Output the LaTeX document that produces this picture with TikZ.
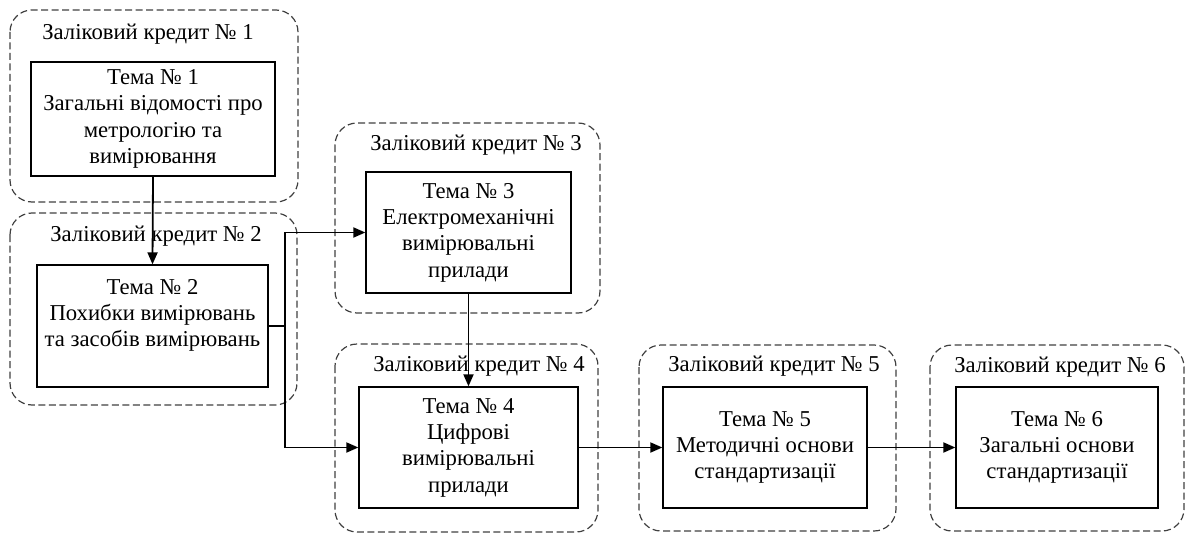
\documentclass[tikz,border=0pt]{standalone}
\usepackage{fontspec}
\setmainfont{Liberation Serif}
\usetikzlibrary{arrows.meta}
\begin{document}
\begin{tikzpicture}[x=1pt,y=-1pt,
  grp/.style={draw=black!75, line width=1.2pt, dash pattern=on 7pt off 3.5pt, rounded corners=22pt},
  glabel/.style={anchor=base, inner sep=0pt, font=\fontsize{22.7}{26}\selectfont},
  topic/.style={draw, line width=1.3pt, inner sep=0pt, align=center, font=\fontsize{22.7}{26.3}\selectfont},
  arr/.style={line width=1.8pt, -{Triangle[length=12pt,width=10pt]}}]
\useasboundingbox (0,0) rectangle (1186,535);
% groups
\draw[grp] (10,10) rectangle (298,202);
\draw[grp] (10,213) rectangle (297,405);
\draw[grp] (335,123) rectangle (600,313);
\draw[grp] (335,344) rectangle (598,532);
\draw[grp] (639,345) rectangle (896,531);
\draw[grp] (930,345) rectangle (1184,531);
% group labels
\node[glabel] (l1) at (148,40) {Заліковий кредит № 1};
\node[glabel] (l2) at (156,241) {Заліковий кредит № 2};
\node[glabel] (l3) at (476,150) {Заліковий кредит № 3};
\node[glabel] (l4) at (479,371) {Заліковий кредит № 4};
\node[glabel] (l5) at (774,371) {Заліковий кредит № 5};
\node[glabel] (l6) at (1060,372) {Заліковий кредит № 6};
% topics
\node[topic, minimum width=244pt, minimum height=114pt] (b1) at (153,119)
  {Тема № 1\\Загальні відомості про\\метрологію та\\вимірювання};
\node[topic, minimum width=231pt, minimum height=122pt] (b2) at (152.5,326)
  {Тема № 2\\Похибки вимірювань\\та засобів вимірювань\\\mbox{}};
\node[topic, minimum width=205pt, minimum height=121pt] (b3) at (468.5,232.5)
  {Тема № 3\\Електромеханічні\\вимірювальні\\прилади};
\node[topic, minimum width=219pt, minimum height=121pt] (b4) at (468.5,447.5)
  {Тема № 4\\Цифрові\\вимірювальні\\прилади};
\node[topic, minimum width=204pt, minimum height=121pt] (b5) at (765,447.5)
  {Тема № 5\\Методичні основи\\стандартизації};
\node[topic, minimum width=202pt, minimum height=121pt] (b6) at (1057,447.5)
  {Тема № 6\\Загальні основи\\стандартизації};
% connectors
\draw[arr] (b1.south) -- (b2.north);
\draw[line width=1.8pt] (b2.east) -- ++(16,0) coordinate (j);
\draw[arr] (j) |- (b3.west);
\draw[arr] (j) |- (b4.west);
\draw[arr] (b3.south) -- (b4.north);
\draw[arr] (b4.east) -- (b5.west);
\draw[arr] (b5.east) -- (b6.west);
\end{tikzpicture}
\end{document}
